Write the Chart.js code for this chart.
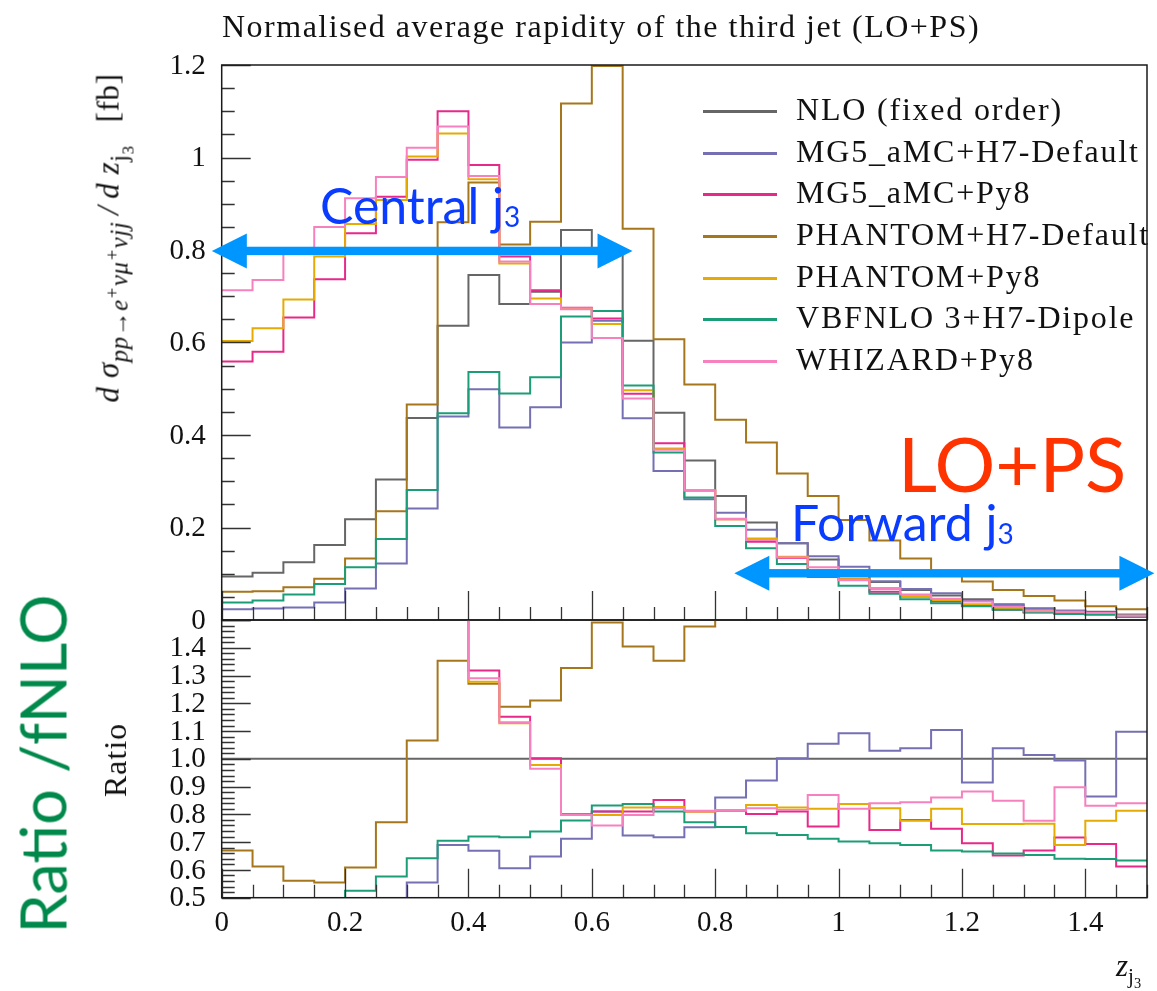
<!DOCTYPE html>
<html lang="en">
<head>
<meta charset="UTF-8">
<title>Normalised average rapidity of the third jet (LO+PS)</title>
<script src="https://cdn.jsdelivr.net/npm/chart.js"></script>
<style>
    body {
        margin: 0;
        background: #fff;
    }
    #page {
        position: relative;
        width: 1157px;
        height: 991px;
        overflow: hidden;
        background: #fff;
        font-family: "Liberation Serif", serif;
        color: #111;
    }
    canvas {
        position: absolute;
        left: 0;
        top: 0;
    }
    .txt {
        position: absolute;
        white-space: nowrap;
        line-height: 1;
    }
    .rot {
        transform: translate(-50%, -50%) rotate(-90deg);
    }
    .sub {
        position: relative;
        top: 0.35em;
        font-size: 0.68em;
    }
    .sup {
        position: relative;
        top: -0.45em;
        font-size: 0.75em;
    }
    .sans {
        font-family: Lato, "Open Sans", sans-serif;
    }
    .legend-line {
        position: absolute;
        height: 3px;
    }
</style>
</head>
<body>
<div id="page">
    <canvas id="mainChart" width="1157" height="991"></canvas>
    <canvas id="ratioChart" width="1157" height="991"></canvas>

    <div class="txt" style="left:222px; top:10px; font-size:32px; letter-spacing:1.5px;">Normalised average rapidity of the third jet (LO+PS)</div>

    <div class="txt rot" style="left:108px; top:238px; font-size:31px; letter-spacing:0.6px;"><i>d&nbsp;σ</i><span class="sub" style="font-size:0.8em;"><i>pp→e<span class="sup">+</span>νμ<span class="sup">+</span>νjj</i></span><i>&thinsp;/&thinsp;d&nbsp;z</i><span class="sub" style="font-size:0.8em;">j<span class="sub">3</span></span>&ensp;&thinsp;[fb]</div>
    <div class="txt rot" style="left:115px; top:760px; font-size:32px; letter-spacing:1px;">Ratio</div>
    <div class="txt rot sans" style="left:42px; top:764px; font-size:63px; color:#00894b;">Ratio /fNLO</div>
    <div class="txt" style="left:1116px; top:950px; font-size:31px;"><i>z</i><span class="sub">j<span class="sub">3</span></span></div>

    <div class="txt sans" style="left:898px; top:425px; font-size:76px; color:#ff3300;">LO+PS</div>
    <div class="txt sans" style="left:320px; top:180px; font-size:50px; color:#0a3cff;">Central j<span style="font-size:28px; position:relative; top:3px;">3</span></div>
    <div class="txt sans" style="left:791px; top:497px; font-size:50px; color:#0a3cff;">Forward j<span style="font-size:28px; position:relative; top:3px;">3</span></div>

    <div id="legend"></div>
</div>

<script>
    // bin edges of z_j3 (30 bins of width 0.05)
    const binEdges = [0, 0.05, 0.1, 0.15, 0.2, 0.25, 0.3, 0.35, 0.4, 0.45, 0.5, 0.55, 0.6, 0.65, 0.7,
        0.75, 0.8, 0.85, 0.9, 0.95, 1.0, 1.05, 1.1, 1.15, 1.2, 1.25, 1.3, 1.35, 1.4, 1.45, 1.5];

    // normalised distributions, one value per bin
    const nloFixedOrder = [0.094, 0.102, 0.125, 0.162, 0.218, 0.304, 0.437, 0.636, 0.746, 0.683, 0.710, 0.843, 0.803, 0.604, 0.448,
        0.345, 0.268, 0.211, 0.166, 0.131, 0.105, 0.082, 0.065, 0.053, 0.045, 0.033, 0.025, 0.020, 0.018, 0.011];
    const mg5H7Default = [0.023, 0.025, 0.027, 0.038, 0.068, 0.122, 0.241, 0.440, 0.499, 0.416, 0.460, 0.600, 0.647, 0.436, 0.322,
        0.261, 0.232, 0.195, 0.166, 0.138, 0.115, 0.084, 0.067, 0.058, 0.041, 0.034, 0.025, 0.020, 0.016, 0.012];
    const mg5Py8 = [0.559, 0.580, 0.654, 0.737, 0.836, 0.915, 0.995, 1.100, 0.984, 0.786, 0.713, 0.675, 0.652, 0.489, 0.382,
        0.280, 0.218, 0.169, 0.134, 0.099, 0.088, 0.061, 0.051, 0.040, 0.031, 0.022, 0.017, 0.014, 0.012, 0.007];
    const phantomH7Default = [0.061, 0.062, 0.071, 0.089, 0.133, 0.235, 0.466, 0.860, 0.946, 0.812, 0.861, 1.117, 1.198, 0.846, 0.607,
        0.509, 0.433, 0.384, 0.317, 0.268, 0.216, 0.172, 0.133, 0.105, 0.083, 0.065, 0.052, 0.042, 0.030, 0.023];
    const phantomPy8 = [0.603, 0.631, 0.693, 0.786, 0.856, 0.908, 1.002, 1.052, 0.953, 0.771, 0.695, 0.674, 0.640, 0.497, 0.371,
        0.280, 0.218, 0.176, 0.137, 0.107, 0.088, 0.067, 0.050, 0.043, 0.034, 0.025, 0.019, 0.014, 0.014, 0.009];
    const vbfnloH7Dipole = [0.038, 0.042, 0.055, 0.078, 0.114, 0.175, 0.281, 0.447, 0.536, 0.490, 0.525, 0.656, 0.668, 0.507, 0.362,
        0.265, 0.203, 0.155, 0.121, 0.093, 0.074, 0.057, 0.045, 0.036, 0.030, 0.022, 0.016, 0.013, 0.012, 0.007];
    const whizardPy8 = [0.713, 0.735, 0.800, 0.850, 0.912, 0.958, 1.021, 1.067, 0.960, 0.775, 0.683, 0.672, 0.610, 0.479, 0.368,
        0.280, 0.219, 0.173, 0.135, 0.114, 0.086, 0.069, 0.055, 0.046, 0.040, 0.028, 0.019, 0.018, 0.015, 0.009];

    // ratios to the fixed-order NLO prediction (values outside 0.5-1.5 run off the panel)
    const ratioNlo = [1, 1, 1, 1, 1, 1, 1, 1, 1, 1, 1, 1, 1, 1, 1,
        1, 1, 1, 1, 1, 1, 1, 1, 1, 1, 1, 1, 1, 1, 1];
    const ratioMg5H7Default = [0.245, 0.245, 0.216, 0.235, 0.312, 0.401, 0.555, 0.690, 0.669, 0.606, 0.648, 0.712, 0.810, 0.724, 0.718,
        0.754, 0.861, 0.922, 1.002, 1.054, 1.092, 1.029, 1.038, 1.104, 0.915, 1.038, 1.014, 0.994, 0.864, 1.098];
    const ratioMg5Py8 = [5.95, 5.69, 5.23, 4.55, 3.83, 3.01, 2.28, 1.73, 1.318, 1.152, 1.002, 0.801, 0.810, 0.810, 0.852,
        0.810, 0.813, 0.801, 0.810, 0.756, 0.837, 0.744, 0.780, 0.748, 0.696, 0.652, 0.670, 0.717, 0.693, 0.612];
    const ratioPhantomH7Default = [0.670, 0.612, 0.561, 0.555, 0.609, 0.772, 1.066, 1.353, 1.270, 1.188, 1.210, 1.327, 1.491, 1.405, 1.353,
        1.477, 1.62, 1.82, 1.91, 2.05, 2.06, 2.10, 2.05, 1.98, 1.84, 1.97, 2.08, 2.10, 1.67, 2.09];
    const ratioPhantomPy8 = [6.41, 6.19, 5.54, 4.85, 3.93, 2.99, 2.29, 1.65, 1.278, 1.128, 0.978, 0.800, 0.798, 0.825, 0.827,
        0.810, 0.813, 0.834, 0.825, 0.820, 0.837, 0.822, 0.777, 0.820, 0.765, 0.765, 0.766, 0.690, 0.777, 0.813];
    const ratioVbfnloH7Dipole = [0.404, 0.412, 0.440, 0.481, 0.525, 0.576, 0.642, 0.705, 0.720, 0.718, 0.738, 0.778, 0.832, 0.837, 0.810,
        0.772, 0.755, 0.732, 0.726, 0.712, 0.702, 0.696, 0.690, 0.670, 0.666, 0.659, 0.654, 0.640, 0.639, 0.634];
    const ratioWhizardPy8 = [7.59, 7.21, 6.40, 5.25, 4.18, 3.15, 2.34, 1.68, 1.290, 1.132, 0.964, 0.798, 0.760, 0.798, 0.822,
        0.813, 0.816, 0.822, 0.816, 0.870, 0.820, 0.840, 0.844, 0.861, 0.882, 0.849, 0.777, 0.898, 0.831, 0.840];

    const seriesNames = ['NLO (fixed order)', 'MG5_aMC+H7-Default', 'MG5_aMC+Py8', 'PHANTOM+H7-Default',
        'PHANTOM+Py8', 'VBFNLO 3+H7-Dipole', 'WHIZARD+Py8'];
    const seriesColors = ['#666666', '#7570b3', '#e7298a', '#a6761d', '#e6ab02', '#1b9e77', '#f781bf'];

    const mainYTicks = [0, 0.2, 0.4, 0.6, 0.8, 1, 1.2];
    const mainYLabels = ['0', '0.2', '0.4', '0.6', '0.8', '1', '1.2'];
    const ratioYTicks = [0.5, 0.6, 0.7, 0.8, 0.9, 1.0, 1.1, 1.2, 1.3, 1.4];
    const ratioYLabels = ['0.5', '0.6', '0.7', '0.8', '0.9', '1.0', '1.1', '1.2', '1.3', '1.4'];
    const xTicks = [0, 0.2, 0.4, 0.6, 0.8, 1, 1.2, 1.4];
    const xLabels = ['0', '0.2', '0.4', '0.6', '0.8', '1', '1.2', '1.4'];

    const mainSeries = [nloFixedOrder, mg5H7Default, mg5Py8, phantomH7Default, phantomPy8, vbfnloH7Dipole, whizardPy8];
    const ratioSeries = [ratioNlo, ratioMg5H7Default, ratioMg5Py8, ratioPhantomH7Default, ratioPhantomPy8, ratioVbfnloH7Dipole, ratioWhizardPy8];

    // one point per left bin edge plus the closing edge, drawn as steps
    function stepPoints(values) {
        const pts = values.map((v, i) => ({ x: binEdges[i], y: v }));
        pts.push({ x: binEdges[binEdges.length - 1], y: values[values.length - 1] });
        return pts;
    }

    function isMultiple(v, step) {
        const q = v / step;
        return Math.abs(q - Math.round(q)) < 1e-6;
    }

    function drawArrow(ctx, x1, x2, y) {
        const head = 35, half = 17.5;
        ctx.save();
        ctx.fillStyle = '#0096ff';
        ctx.fillRect(x1 + head - 2, y - 4.2, (x2 - x1) - 2 * head + 4, 8.4);
        ctx.beginPath();
        ctx.moveTo(x1, y); ctx.lineTo(x1 + head, y - half); ctx.lineTo(x1 + head, y + half); ctx.closePath();
        ctx.moveTo(x2, y); ctx.lineTo(x2 - head, y - half); ctx.lineTo(x2 - head, y + half); ctx.closePath();
        ctx.fill();
        ctx.restore();
    }

    // frame, inward ticks and tick labels drawn from the chart's own scales
    function framePlugin(cfg) {
        return {
            id: 'frameTicks',
            afterDatasetsDraw(chart) {
                const { ctx, chartArea: a, scales: { x, y } } = chart;
                ctx.save();
                ctx.strokeStyle = '#333';
                ctx.lineWidth = 1.3;
                ctx.beginPath();
                for (let k = 0; ; k++) {
                    const v = cfg.yMin + k * cfg.yMinor;
                    if (v > cfg.yMax + 1e-9) break;
                    const py = Math.round(y.getPixelForValue(v)) + 0.5;
                    const len = isMultiple(v, cfg.yMajor) ? 29 : 13;
                    ctx.moveTo(a.left, py);
                    ctx.lineTo(a.left + len, py);
                }
                binEdges.forEach(v => {
                    const px = Math.round(x.getPixelForValue(v)) + 0.5;
                    const len = isMultiple(v, 0.2) ? 29 : 13;
                    ctx.moveTo(px, a.bottom);
                    ctx.lineTo(px, a.bottom - len);
                });
                ctx.stroke();

                ctx.strokeStyle = '#1a1a1a';
                ctx.lineWidth = 1.5;
                ctx.strokeRect(a.left, a.top, a.right - a.left, a.bottom - a.top);

                ctx.fillStyle = '#111';
                ctx.font = '29px "Liberation Serif"';
                ctx.textAlign = 'right';
                ctx.textBaseline = 'middle';
                cfg.yTicks.forEach((v, i) => {
                    ctx.fillText(cfg.yLabels[i], a.left - 16, y.getPixelForValue(v) + 1);
                });
                if (cfg.xLabels) {
                    ctx.textAlign = 'center';
                    xTicks.forEach((v, i) => {
                        ctx.fillText(xLabels[i], x.getPixelForValue(v), a.bottom + 26);
                    });
                }
                if (cfg.arrows) {
                    cfg.arrows.forEach(ar => {
                        drawArrow(ctx, x.getPixelForValue(ar.from), x.getPixelForValue(ar.to), y.getPixelForValue(ar.y));
                    });
                }
                ctx.restore();
            }
        };
    }

    function histChart(id, series, yMin, yMax, padding, plugin) {
        return new Chart(document.getElementById(id), {
            type: 'line',
            data: {
                datasets: series.map((vals, i) => ({
                    label: seriesNames[i],
                    data: stepPoints(vals),
                    borderColor: seriesColors[i],
                    borderWidth: 2,
                    pointRadius: 0,
                    stepped: true,
                    fill: false,
                    order: series.length - i
                }))
            },
            options: {
                responsive: false,
                animation: false,
                events: [],
                layout: { padding },
                plugins: { legend: { display: false }, tooltip: { enabled: false } },
                scales: {
                    x: { type: 'linear', min: 0, max: 1.5, display: false },
                    y: { type: 'linear', min: yMin, max: yMax, display: false }
                }
            },
            plugins: [plugin]
        });
    }

    histChart('mainChart', mainSeries, 0, 1.2,
        { left: 221.7, right: 10, top: 65, bottom: 371 },
        framePlugin({
            yMin: 0, yMax: 1.2, yMinor: 0.05, yMajor: 0.2,
            yTicks: mainYTicks, yLabels: mainYLabels,
            arrows: [
                { from: -0.016, to: 0.666, y: 0.798 },
                { from: 0.831, to: 1.512, y: 0.101 }
            ]
        }));

    histChart('ratioChart', ratioSeries, 0.5, 1.5,
        { left: 221.7, right: 10, top: 620, bottom: 93.3 },
        framePlugin({
            yMin: 0.5, yMax: 1.5, yMinor: 0.02, yMajor: 0.1,
            yTicks: ratioYTicks, yLabels: ratioYLabels,
            xLabels: true
        }));

    // legend block
    const legend = document.getElementById('legend');
    seriesNames.forEach((name, i) => {
        const yc = 111.7 + i * 41.6;
        const line = document.createElement('div');
        line.className = 'legend-line';
        line.style.cssText = `left:703px; width:74px; top:${yc - 1.5}px; background:${seriesColors[i]};`;
        legend.appendChild(line);
        const label = document.createElement('div');
        label.className = 'txt';
        label.style.cssText = `left:796px; top:${yc - 18.5}px; font-size:32px; letter-spacing:1.8px;`;
        label.textContent = name;
        legend.appendChild(label);
    });
</script>
</body>
</html>
